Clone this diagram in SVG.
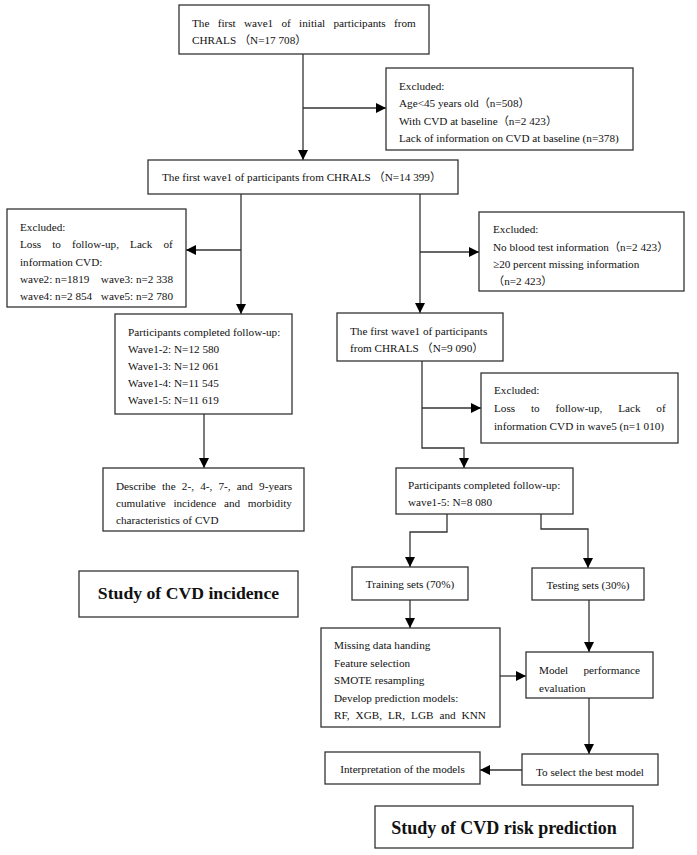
<svg xmlns="http://www.w3.org/2000/svg" width="697" height="855" viewBox="0 0 697 855">
<style>
.box{fill:#fff;stroke:#333;stroke-width:1.3}
.t{font-family:"Liberation Serif","Noto Sans CJK SC",serif;font-size:11.2px;fill:#111}
.c{text-anchor:middle}
.e{text-anchor:end}
.b{font-family:"Liberation Serif",serif;font-weight:bold;font-size:18px;fill:#111;text-anchor:middle}
.ln{fill:none;stroke:#333;stroke-width:1.3}
</style>
<defs>
<marker id="ah" viewBox="0 0 10 10" refX="10" refY="5" markerWidth="10" markerHeight="10" markerUnits="userSpaceOnUse" orient="auto">
<path d="M0,0 L10,5 L0,10 z" fill="#000"/>
</marker>
</defs>
<rect width="697" height="855" fill="#fff"/>

<g id="connectors">
<path class="ln" d="M303,54 V160" marker-end="url(#ah)"/>
<path class="ln" d="M303,108 H386" marker-end="url(#ah)"/>
<path class="ln" d="M241,194 V314" marker-end="url(#ah)"/>
<path class="ln" d="M241,250 H186" marker-end="url(#ah)"/>
<path class="ln" d="M420,194 V313" marker-end="url(#ah)"/>
<path class="ln" d="M420,252 H479" marker-end="url(#ah)"/>
<path class="ln" d="M204,414 V468" marker-end="url(#ah)"/>
<path class="ln" d="M422,361 V448 H464 V468" marker-end="url(#ah)"/>
<path class="ln" d="M422,408 H481" marker-end="url(#ah)"/>
<path class="ln" d="M447,514 V532 H410 V567" marker-end="url(#ah)"/>
<path class="ln" d="M541,514 V529 H588 V568" marker-end="url(#ah)"/>
<path class="ln" d="M410,600 V628" marker-end="url(#ah)"/>
<path class="ln" d="M589,600 V652" marker-end="url(#ah)"/>
<path class="ln" d="M500,676 H526" marker-end="url(#ah)"/>
<path class="ln" d="M589,698 V754" marker-end="url(#ah)"/>
<path class="ln" d="M522,770 H480" marker-end="url(#ah)"/>
</g>

<g id="n_initial">
<rect class="box" x="179" y="5" width="250" height="49"/>
<text class="t" x="192" y="27" word-spacing="5.5">The first wave1 of initial participants from</text>
<text class="t" x="192" y="44">CHRALS （N=17 708）</text>
</g>

<g id="n_excl1">
<rect class="box" x="386" y="68" width="247" height="82"/>
<text class="t" x="399" y="90">Excluded:</text>
<text class="t" x="399" y="107">Age&lt;45 years old（n=508）</text>
<text class="t" x="399" y="125">With CVD at baseline（n=2 423）</text>
<text class="t" x="399" y="142">Lack of information on CVD at baseline (n=378)</text>
</g>

<g id="n_wave1">
<rect class="box" x="148" y="160" width="310" height="34"/>
<text class="t" x="162" y="181">The first wave1 of participants from CHRALS （N=14 399）</text>
</g>

<g id="n_excl2">
<rect class="box" x="7" y="209" width="179" height="98"/>
<text class="t" x="20" y="231">Excluded:</text>
<text class="t" x="20" y="248" word-spacing="8.3">Loss to follow-up, Lack of</text>
<text class="t" x="20" y="266">information CVD:</text>
<text class="t" x="20" y="283">wave2: n=1819</text>
<text class="t e" x="173" y="283">wave3: n=2 338</text>
<text class="t" x="20" y="300">wave4: n=2 854</text>
<text class="t e" x="173" y="300">wave5: n=2 780</text>
</g>

<g id="n_excl3">
<rect class="box" x="479" y="212" width="205" height="79"/>
<text class="t" x="493" y="233">Excluded:</text>
<text class="t" x="493" y="251">No blood test information（n=2 423）</text>
<text class="t" x="493" y="268">≥20 percent missing information</text>
<text class="t" x="493" y="285">（n=2 423）</text>
</g>

<g id="n_follow1">
<rect class="box" x="115" y="314" width="177" height="100"/>
<text class="t" x="128" y="336">Participants completed follow-up:</text>
<text class="t" x="128" y="353">Wave1-2: N=12 580</text>
<text class="t" x="128" y="370">Wave1-3: N=12 061</text>
<text class="t" x="128" y="387">Wave1-4: N=11 545</text>
<text class="t" x="128" y="404">Wave1-5: N=11 619</text>
</g>

<g id="n_9090">
<rect class="box" x="337" y="313" width="166" height="48"/>
<text class="t" x="350" y="335">The first wave1 of participants</text>
<text class="t" x="350" y="352">from CHRALS （N=9 090）</text>
</g>

<g id="n_excl4">
<rect class="box" x="481" y="373" width="197" height="70"/>
<text class="t" x="494" y="394">Excluded:</text>
<text class="t" x="494" y="412" word-spacing="13">Loss to follow-up, Lack of</text>
<text class="t" x="494" y="430">information CVD in wave5 (n=1 010)</text>
</g>

<g id="n_describe">
<rect class="box" x="103" y="468" width="201" height="63"/>
<text class="t" x="116" y="490" word-spacing="3.4">Describe the 2-, 4-, 7-, and 9-years</text>
<text class="t" x="116" y="507" word-spacing="4.9">cumulative incidence and morbidity</text>
<text class="t" x="116" y="524">characteristics of CVD</text>
</g>

<g id="n_follow2">
<rect class="box" x="396" y="468" width="177" height="46"/>
<text class="t" x="408" y="489">Participants completed follow-up:</text>
<text class="t" x="408" y="506">wave1-5: N=8 080</text>
</g>

<g id="n_incidence">
<rect class="box" x="79" y="571" width="219" height="46"/>
<text class="b" x="188.5" y="599" style="font-size:17.7px">Study of CVD incidence</text>
</g>

<g id="n_training">
<rect class="box" x="352" y="567" width="116" height="33"/>
<text class="t c" x="410" y="588">Training sets (70%)</text>
</g>

<g id="n_testing">
<rect class="box" x="532" y="568" width="112" height="32"/>
<text class="t c" x="588" y="589">Testing sets (30%)</text>
</g>

<g id="n_missing">
<rect class="box" x="321" y="628" width="179" height="99"/>
<text class="t" x="334" y="649">Missing data handing</text>
<text class="t" x="334" y="667">Feature selection</text>
<text class="t" x="334" y="684">SMOTE resampling</text>
<text class="t" x="334" y="702">Develop prediction models:</text>
<text class="t" x="334" y="719" word-spacing="3.2">RF, XGB, LR, LGB and KNN</text>
</g>

<g id="n_model">
<rect class="box" x="526" y="652" width="127" height="46"/>
<text class="t" x="539" y="674" word-spacing="12.4">Model performance</text>
<text class="t" x="539" y="692">evaluation</text>
</g>

<g id="n_select">
<rect class="box" x="522" y="754" width="136" height="31"/>
<text class="t c" x="590" y="776">To select the best model</text>
</g>

<g id="n_interp">
<rect class="box" x="325" y="752" width="155" height="32"/>
<text class="t c" x="402.5" y="773">Interpretation of the models</text>
</g>

<g id="n_risk">
<rect class="box" x="375" y="806" width="258" height="42"/>
<text class="b" x="504" y="834">Study of CVD risk prediction</text>
</g>
</svg>
